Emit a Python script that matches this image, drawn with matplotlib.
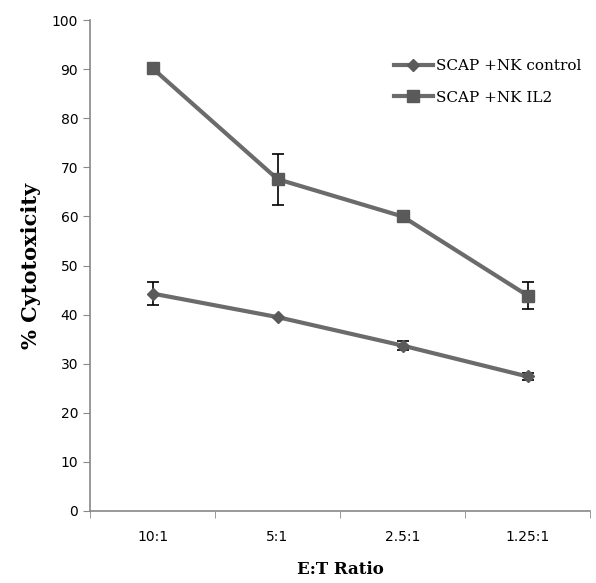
import matplotlib
matplotlib.use("Agg")
import matplotlib.pyplot as plt
from matplotlib.lines import Line2D
import numpy as np

categories = ["10:1", "5:1", "2.5:1", "1.25:1"]
control = [44.3, 39.5, 33.7, 27.4]
control_err = [2.4, 0.0, 1.0, 0.7]
il2 = [90.2, 67.6, 60.0, 43.9]
il2_err = [0.6, 5.2, 0.0, 2.7]
yticks = [0, 10, 20, 30, 40, 50, 60, 70, 80, 90, 100]

fig = plt.figure(figsize=(5.96, 5.83), dpi=100)
ax = fig.add_axes([0.151, 0.1235, 0.839, 0.842])

x = np.arange(len(categories))
line_c = "#6b6b6b"
mark_c = "#5a5a5a"
ax.errorbar(x, control, yerr=control_err, color=line_c, lw=3, marker="D", ms=6.5,
            mfc=mark_c, mec=mark_c, ecolor="black", elinewidth=1.2, capsize=4, capthick=1.2,
            zorder=3)
ax.errorbar(x, il2, yerr=il2_err, color=line_c, lw=3, marker="s", ms=9,
            mfc=mark_c, mec=mark_c, ecolor="black", elinewidth=1.2, capsize=4, capthick=1.2,
            zorder=3)

ax.set_xlim(-0.5, 3.5)
ax.set_ylim(0, 100)
ax.set_yticks(yticks)
ax.set_xticks(x)
ax.set_xticklabels(categories, fontsize=10)
ax.set_xticks(np.arange(-0.5, 4.0, 1.0), minor=True)
ax.tick_params(axis="x", which="major", length=0, pad=14)
ax.tick_params(axis="x", which="minor", length=5, color="#888888")
ax.tick_params(axis="y", length=5, color="#888888", labelsize=10)
for s in ["top", "right"]:
    ax.spines[s].set_visible(False)
for s in ["left", "bottom"]:
    ax.spines[s].set_color("#888888")
    ax.spines[s].set_linewidth(1.2)

ax.set_ylabel("% Cytotoxicity", fontsize=15, fontweight="bold", family="DejaVu Serif", labelpad=8)
ax.set_xlabel("E:T Ratio", fontsize=12, fontweight="bold", family="DejaVu Serif", labelpad=12)

handles = [
    Line2D([], [], color=line_c, lw=3, marker="D", ms=6.5, mfc=mark_c, mec=mark_c),
    Line2D([], [], color=line_c, lw=3, marker="s", ms=9, mfc=mark_c, mec=mark_c),
]
ax.legend(handles, ["SCAP +NK control", "SCAP +NK IL2"], loc="upper left",
          bbox_to_anchor=(0.595, 0.933), frameon=False, borderaxespad=0,
          prop={"family": "DejaVu Serif", "size": 11}, handlelength=2.6,
          labelspacing=1.15, handletextpad=0.2)

fig.savefig("out.png", dpi=100)
